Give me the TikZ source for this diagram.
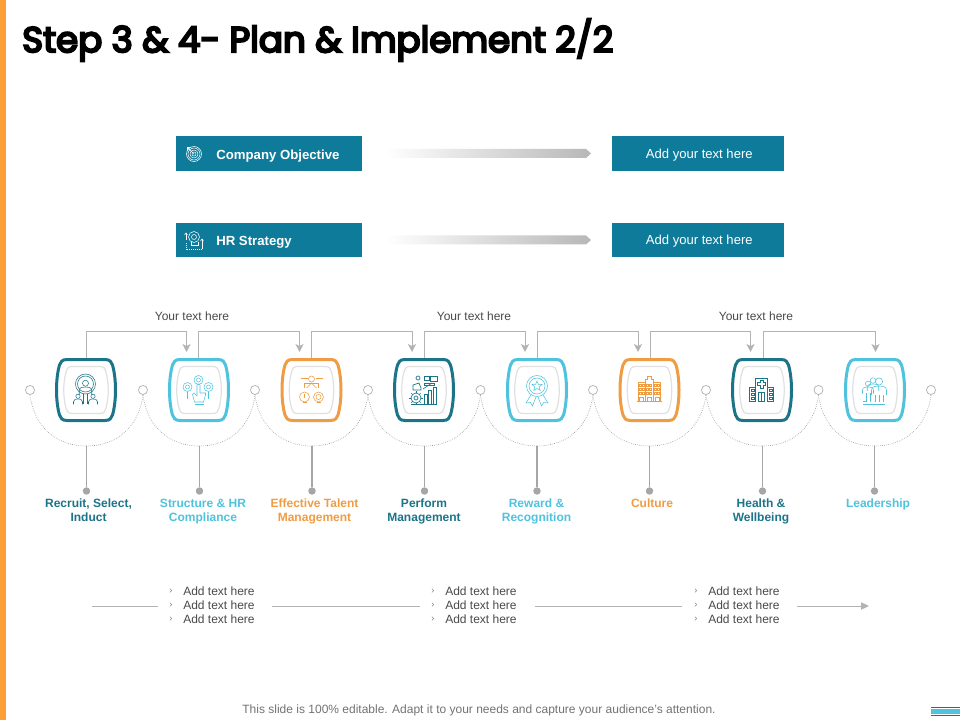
\documentclass[tikz,border=0pt]{standalone}
\usepackage{fontspec}
\setmainfont{Liberation Sans}
\newfontfamily\titlefont[FakeBold=6]{Poppins}
\usetikzlibrary{arrows.meta,shadings,calc}
\definecolor{barorange}{HTML}{FF9F38}
\definecolor{boxteal}{HTML}{0F7B9B}
\definecolor{cdark}{HTML}{1C7488}
\definecolor{ccyan}{HTML}{4FC3DD}
\definecolor{corange}{HTML}{F09C42}
\definecolor{linegray}{HTML}{B3B3B3}
\definecolor{stemgray}{HTML}{A6A6A6}
\definecolor{txtgray}{HTML}{4A4A4A}
\tikzset{
  x=0.75pt,y=-0.75pt,
  headbox/.style={fill=boxteal,text=white,inner sep=0pt,anchor=north west},
  addbox/.style={fill=boxteal,text=white,font=\fontsize{9.8}{11}\selectfont,inner sep=0pt,anchor=north west,align=center},
  headtext/.style={anchor=west,inner sep=0pt,text=white,font=\fontsize{9.9}{11}\selectfont\bfseries},
  slotbox/.style={minimum width=46.5pt,minimum height=48pt,inner sep=0pt,draw=none},
  ringdot/.style={circle,draw=linegray,fill=white,line width=0.55pt,minimum size=6.8pt,inner sep=0pt},
  pindot/.style={circle,fill=stemgray,minimum size=5.6pt,inner sep=0pt},
  linkline/.style={draw=linegray,line width=0.7pt,-{Stealth[length=6pt,width=6pt,inset=1.6pt]}},
  endlink/.style={draw=linegray,line width=0.7pt,-{Triangle[length=6pt,width=5.5pt]}},
  plainlink/.style={draw=linegray,line width=0.7pt},
  swagline/.style={draw=black!45,line width=0.45pt,densely dotted},
  stemline/.style={draw=stemgray,line width=0.8pt},
  tilecap/.style={font=\fontsize{9}{10.5}\selectfont\bfseries,align=center,anchor=north,inner sep=0pt},
  notetext/.style={font=\fontsize{9}{10}\selectfont,text=txtgray,inner sep=0pt},
  addline/.style={font=\fontsize{9}{10}\selectfont,text=txtgray,inner sep=0pt,anchor=west},
  ticktext/.style={font=\fontsize{7}{8}\selectfont,text=black!50,inner sep=0pt},
  icoline/.style={line width=0.4pt,fill=none},
}
\newcommand{\barrel}[3]{% x, colour, unused
  \begin{scope}[shift={(#1,390)}]
    \draw[#2,line width=2.25pt,fill=white] (-19,-30.5) -- (19,-30.5) .. controls (24,-30.5) and (25.5,-28) .. (26.5,-25) .. controls (30.5,-11) and (30.5,11) .. (26.5,25) .. controls (25.5,28) and (24,30.5) .. (19,30.5) -- (-19,30.5) .. controls (-24,30.5) and (-25.5,28) .. (-26.5,25) .. controls (-30.5,11) and (-30.5,-11) .. (-26.5,-25) .. controls (-25.5,-28) and (-24,-30.5) .. (-19,-30.5) -- cycle;
    \draw[black!12,line width=0.9pt] (-14,-23.5) -- (14,-23.5) .. controls (18,-23.5) and (19.5,-21) .. (20,-18) .. controls (23,-7) and (23,7) .. (20,18) .. controls (19.5,21) and (18,23.5) .. (14,23.5) -- (-14,23.5) .. controls (-18,23.5) and (-19.5,21) .. (-20,18) .. controls (-23,7) and (-23,-7) .. (-20,-18) .. controls (-19.5,-21) and (-18,-23.5) .. (-14,-23.5) -- cycle;
  \end{scope}}
\newcommand{\bust}[3]{% x y scale: head and shoulders
  \draw (#1,#2-3*#3) circle (2.4*#3);
  \draw (#1-5*#3,#2+6*#3) -- (#1-5*#3,#2+3*#3) .. controls (#1-5*#3,#2) and (#1-2*#3,#2) .. (#1,#2) .. controls (#1+2*#3,#2) and (#1+5*#3,#2) .. (#1+5*#3,#2+3*#3) -- (#1+5*#3,#2+6*#3);}
\begin{document}
\begin{tikzpicture}
\useasboundingbox (0,0) rectangle (960,720);
\fill[white] (0,0) rectangle (960,720);
\fill[barorange] (0,0) rectangle (6,720);
\node[anchor=west,inner sep=0pt] (title) at (22,40) {\titlefont\fontsize{26.7}{30}\selectfont Step 3 \& 4- Plan \& Implement 2/2};

% header rows
\node[headbox,minimum width=139.5pt,minimum height=26.25pt] (h1) at (176,136) {};
\node[headbox,minimum width=139.5pt,minimum height=25.5pt] (h2) at (176,223) {};
\node[headtext] (h1t) at (216,155.7) {Company Objective};
\node[headtext] (h2t) at (216,242) {HR Strategy};
\node[addbox,minimum width=129pt,minimum height=26.25pt] (r1) at (612,136) {\hspace*{1.5pt}\raisebox{-3.2pt}[0pt][0pt]{Add your text here}};
\node[addbox,minimum width=129pt,minimum height=25.5pt] (r2) at (612,223) {\hspace*{1.5pt}\raisebox{-3.2pt}[0pt][0pt]{Add your text here}};
\foreach \yy in {153.5,240}{
  \shade[left color=white,right color=black!28,draw=none] (385,\yy-4.5) -- (586,\yy-4.5) -- (591,\yy) -- (586,\yy+4.5) -- (385,\yy+4.5) -- cycle;
}
% header icons
\begin{scope}[shift={(194,154)},white,line width=0.4pt]
  \foreach \r in {2,4,6,7.5}{\draw (0,0) circle (\r);}
  \draw (0,0) -- (-7,-7);
  \draw (-7,-4) -- (-7,-7) -- (-4,-7);
\end{scope}
\begin{scope}[shift={(194,240)},white,line width=0.4pt]
  \draw (0,-3) circle (5.5);
  \draw (0,-3) circle (2.5);
  \draw (-3,2) -- (-3,5) -- (4,5) -- (4,2);
  \draw (-8,-7) -- (-8,0); \draw (-9.5,-5) -- (-8,-7) -- (-6.5,-5);
  \draw[densely dotted] (-8,3) -- (-8,9) -- (8,9);
  \draw (8,9) -- (8,-1); \draw (6.5,1) -- (8,-1) -- (9.5,1);
\end{scope}

% tiles
\barrel{86}{cdark}{}
\barrel{199}{ccyan}{}
\barrel{311.5}{corange}{}
\barrel{424}{cdark}{}
\barrel{537}{ccyan}{}
\barrel{649.5}{corange}{}
\barrel{762}{cdark}{}
\barrel{875}{ccyan}{}
\foreach \n/\xx in {1/86,2/198,3/311,4/424,5/537,6/650,7/763,8/876}{
  \node[slotbox] (t\n) at (\xx,390) {};
}
% icons
\begin{scope}[shift={(85.5,390)},icoline,cdark]
  \draw (0,-6) circle (10); \draw (0,-6) circle (8);
  \bust{0}{-3}{1.25}
  \bust{-7.5}{9}{0.9}
  \bust{7.5}{9}{0.9}
  \draw (-2,4) -- (-2,14); \draw (2,4) -- (2,14);
\end{scope}
\begin{scope}[shift={(198.5,390)},icoline,ccyan]
  \draw (-11,-3) circle (4.5); \draw (-11,-3) circle (2);
  \draw (0,-10) circle (4.5); \draw (0,-10) circle (2);
  \draw (10,-3) circle (4.5); \draw (10,-3) circle (2);
  \draw (-11,2) -- (-11,9); \draw (10,2) -- (10,9);
  \draw (-1.5,-5) -- (-1.5,6) (1.5,-5) -- (1.5,3) (-1.5,-5) .. controls (-1,-6.5) and (1,-6.5) .. (1.5,-5);
  \draw (-1.5,6) -- (-4.5,3) -- (-6,4.5) -- (-4,12) -- (5,12) -- (7,5) -- (7,3) -- (1.5,3);
  \draw (-4,14) -- (5,14);
\end{scope}
\begin{scope}[shift={(311.5,390)},icoline,corange]
  \draw (0,-11) circle (3);
  \draw (-11,-11.5) -- (-4,-11.5) (4,-11.5) -- (11,-11.5);
  \draw (-7,-2) -- (-7,-7) -- (7,-7) -- (7,-2);
  \draw (-5,-2) -- (0,-7) -- (5,-2);
  \draw (-7,7) circle (5); \draw (7,7) circle (5); \draw (7,7) circle (2.5);
  \draw (-7,4) -- (-7,8); \draw (-9,12.5) -- (-5,12.5);\draw (5,12.5) -- (9,12.5);
\end{scope}
\begin{scope}[shift={(424,390)},icoline,cdark,line width=0.5pt]
  \draw (-6,-12) circle (2);
  \draw (-11,0) -- (-11,-5) -- (-5,-7) -- (-3,-2) -- (-3,0) -- cycle;
  \draw (0,-14) rectangle (5,-10); \draw (6,-14) rectangle (13,-9);
  \draw (0,-5) rectangle (10,-7);
  \draw (-8,8) circle (5); \draw (-8,8) circle (2);
  \foreach \a in {0,45,...,315}{\draw (-8,8) ++(\a:5) -- ++(\a:1.6);}
  \draw (0,14) rectangle (3,4); \draw (4.5,14) rectangle (7.5,0); \draw (9,14) rectangle (12,-3);
  \draw (-1,-1) -- (8,-7);
  \draw (-13,14.5) -- (13,14.5);
\end{scope}
\begin{scope}[shift={(537,390)},icoline,ccyan]
  \draw (0,-4) circle (10.5); \draw (0,-4) circle (8);
  \draw (0,-9) -- (1.4,-5.7) -- (5,-5.5) -- (2.2,-3.1) -- (3.1,0.4) -- (0,-1.5) -- (-3.1,0.4) -- (-2.2,-3.1) -- (-5,-5.5) -- (-1.4,-5.7) -- cycle;
  \draw (-6,5) -- (-11,13) -- (-6.5,12.5) -- (-4.5,16) -- (-1,7);
  \draw (6,5) -- (11,13) -- (6.5,12.5) -- (4.5,16) -- (1,7);
\end{scope}
\begin{scope}[shift={(649.5,390)},icoline,corange,line width=0.55pt]
  \draw (-11,11) -- (-11,-8) -- (-4,-8) -- (-4,11);
  \draw (-4,11) -- (-4,-11) -- (-2,-11) -- (-2,-14) -- (2,-14) -- (2,-11) -- (4,-11) -- (4,11);
  \draw (4,11) -- (4,-8) -- (11,-8) -- (11,11);
  \foreach \yy in {-5,-1,3}{
    \foreach \xx in {-9,-6.5,-1.8,1,6.2,8.8}{
      \draw (\xx-0.9,\yy-1) rectangle (\xx+0.9,\yy+1);
    }
  }
  \foreach \xx in {-8,0,8}{\draw (\xx-2,11) -- (\xx-2,7.5) -- (\xx+2,7.5) -- (\xx+2,11);}
  \draw (-12.5,11.5) -- (12.5,11.5);
\end{scope}
\begin{scope}[shift={(761.5,390)},icoline,cdark,line width=0.55pt]
  \draw (-6,11) -- (-6,-12) -- (6,-12) -- (6,11);
  \draw (-1.5,-10) -- (1.5,-10) -- (1.5,-7.5) -- (4,-7.5) -- (4,-4.5) -- (1.5,-4.5) -- (1.5,-2) -- (-1.5,-2) -- (-1.5,-4.5) -- (-4,-4.5) -- (-4,-7.5) -- (-1.5,-7.5) -- cycle;
  \draw (-12,11) rectangle (-6,-3); \draw (6,11) rectangle (12,-3);
  \draw (-3,11) rectangle (3,2);
  \draw (0,11) -- (0,2);
  \foreach \yy in {0,4,8}{
    \draw (-10.5,\yy-1) rectangle (-7.5,\yy+1);
    \draw (7.5,\yy-1) rectangle (10.5,\yy+1);
  }
\end{scope}
\begin{scope}[shift={(874,390)},icoline,ccyan]
  \bust{-6}{-3}{1.1}
  \bust{-1}{-6}{1.15}
  \bust{5}{-4}{1.5}
  \draw (-8,3) -- (-8,12) (-4,3) -- (-4,12) (1,5) -- (1,12) (9,5) -- (9,12) (5,5) -- (5,12);
  \draw (-11,14) -- (11,14); \draw (-11,11.5) -- (-8,11.5);
\end{scope}

% rings, swags, stems, pins, captions
\foreach \n/\xx in {1/86.5,2/199.5,3/312,4/424.5,5/537,6/649.5,7/762.5,8/874.5}{
  \coordinate (b\n) at (\xx,446);
  \node[pindot] (d\n) at (\xx,491) {};
  \draw[stemline] (b\n) -- (d\n);
}
\foreach \n/\xx in {0/30,1/143,2/255,3/368,4/480.5,5/593,6/706,7/818.5,8/931}{
  \node[ringdot] (c\n) at (\xx,390) {};
}
\foreach \l/\n/\r in {0/1/1,1/2/2,2/3/3,3/4/4,4/5/5,5/6/6,6/7/7,7/8/8}{
  \draw[swagline] (c\l.south) .. controls +(4,32) and ($(b\n)+(-30,0)$) .. (b\n);
  \draw[swagline] (b\n) .. controls ($(b\n)+(30,0)$) and ($(c\r.south)+(-4,32)$) .. (c\r.south);
}
\node[tilecap,text=cdark] (l1) at (88.5,498.5) {Recruit, Select,\\Induct};
\node[tilecap,text=ccyan] (l2) at (203,498.5) {Structure \& HR\\Compliance};
\node[tilecap,text=corange] (l3) at (314.5,498.5) {Effective Talent\\Management};
\node[tilecap,text=cdark] (l4) at (424,498.5) {Perform\\Management};
\node[tilecap,text=ccyan] (l5) at (536.5,498.5) {Reward \&\\Recognition};
\node[tilecap,text=corange] (l6) at (652,498.5) {Culture};
\node[tilecap,text=cdark] (l7) at (761,498.5) {Health \&\\Wellbeing};
\node[tilecap,text=ccyan] (l8) at (878,498.5) {Leadership};

% connectors over tiles
\foreach \n/\xx in {1/186.5,2/299.5,3/412,4/525,5/638,6/750.5,7/875.5}{
  \coordinate (a\n) at (\xx,352);
}
\foreach \n in {1,...,7}{
  \draw[linkline] (t\n.north) -- ++(0,-26.5) -| (a\n);
}
\node[notetext] (y1) at (192,316) {Your text here};
\node[notetext] (y2) at (474,316) {Your text here};
\node[notetext] (y3) at (756,316) {Your text here};

% bottom band
\foreach \k/\xa/\xb in {1/171/183,2/433/445,3/696/708}{
  \foreach \m/\yy in {1/591,2/605,3/619}{
    \node[ticktext] at (\xa,\yy) {›};
    \node[addline] (n\k\m) at (\xb,\yy) {Add text here};
  }
}
\coordinate (s0) at (92,606);
\coordinate (s1) at (158,606);
\coordinate (s2) at (272,606);
\coordinate (s3) at (420,606);
\coordinate (s4) at (535,606);
\coordinate (s5) at (682,606);
\coordinate (s6) at (797,606);
\coordinate (s7) at (869,606);
\draw[plainlink] (s0) -- (s1);
\draw[plainlink] (s2) -- (s3);
\draw[plainlink] (s4) -- (s5);
\draw[endlink] (s6) -- (s7);

% footer
\node[inner sep=0pt,text=black!55,font=\fontsize{9}{10}\selectfont] (foot) at (479,710) {This slide is 100\% editable. Adapt it to your needs and capture your audience's attention.};
\fill[cdark] (931,706.5) rectangle (960,707.6);
\fill[ccyan] (931,708.5) rectangle (960,713.5);
\fill[cdark] (931,714.6) rectangle (960,715.7);
\end{tikzpicture}
\end{document}
